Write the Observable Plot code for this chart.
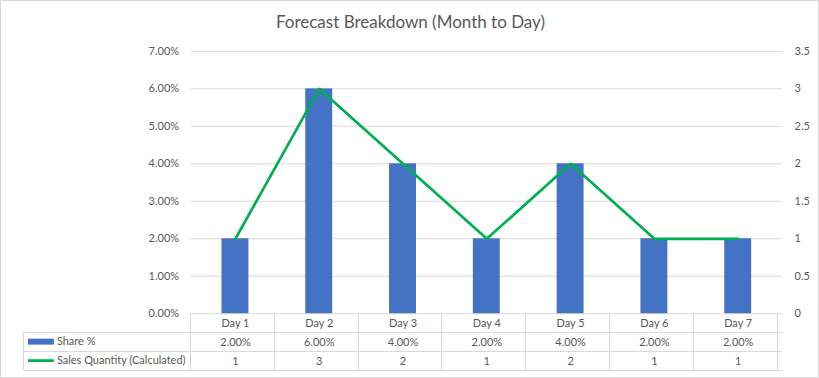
<!DOCTYPE html>
<html>
<head>
<meta charset="utf-8">
<script src="https://cdn.jsdelivr.net/npm/d3@7"></script>
<script src="https://cdn.jsdelivr.net/npm/@observablehq/plot@0.6"></script>
<style>
  html, body { margin: 0; padding: 0; background: #fff; }
  #wrap { position: relative; width: 819px; height: 378px; box-sizing: border-box; border: 1px solid #d9d9d9; overflow: hidden; }
  #wrap svg { position: absolute; left: 0; top: 0; }
  #title { position: absolute; left: 0; top: 10px; width: 819px; text-align: center; font-family: Lato, sans-serif; font-size: 17px; color: #595959; z-index: 2; }
</style>
</head>
<body>
<div id="wrap"><div id="title">Forecast Breakdown (Month to Day)</div></div>
<script>
const days = ["Day 1", "Day 2", "Day 3", "Day 4", "Day 5", "Day 6", "Day 7"];
const sharePct = [2, 6, 4, 2, 4, 2, 2];
const salesQty = [1, 3, 2, 1, 2, 1, 1];
const leftTicks = [0, 1, 2, 3, 4, 5, 6, 7];
const rightTicks = [0, 0.5, 1, 1.5, 2, 2.5, 3, 3.5];
const seriesNames = ["Share %", "Sales Quantity (Calculated)"];

const data = days.map((day, i) => ({day, share: sharePct[i], qty: salesQty[i]}));
const ratio = 7 / 3.5; // left max / right max

const textColor = "#595959";
const gridColor = "#d9d9d9";
const blue = "#4472C4";
const green = "#00B050";

const plot = Plot.plot({
  width: 819,
  height: 378,
  marginTop: 50,
  marginBottom: 65,
  marginLeft: 190,
  marginRight: 36,
  style: {fontFamily: "Lato, sans-serif", fontSize: "11px", color: textColor, background: "transparent", overflow: "visible"},
  x: {domain: days, paddingInner: 0.68, paddingOuter: 0.34, axis: null},
  y: {domain: [0, 7], axis: null},
  marks: [
    Plot.ruleY(leftTicks, {stroke: gridColor, strokeWidth: 1}),
    Plot.barY(data, {x: "day", y: "share", fill: blue}),
    Plot.line(data, {x: "day", y: d => d.qty * ratio, stroke: green, strokeWidth: 2.75}),
    Plot.axisY(leftTicks, {anchor: "left", label: null, tickSize: 0, tickPadding: 12, tickFormat: d => d.toFixed(2) + "%", fill: textColor}),
    Plot.axisY(rightTicks.map(v => v * ratio), {anchor: "right", label: null, tickSize: 0, tickPadding: 12, tickFormat: d => String(d / ratio), fill: textColor}),
    Plot.text(data, {x: "day", y: 0, text: "day", dy: 9.5, fill: textColor}),
    Plot.text(data, {x: "day", y: 0, text: d => d.share.toFixed(2) + "%", dy: 28.5, fill: textColor}),
    Plot.text(data, {x: "day", y: 0, text: d => String(d.qty), dy: 47.5, fill: textColor})
  ]
});

// Data table grid and legend keys, positioned from Plot's own scales
const xs = plot.scale("x");
const ys = plot.scale("y");
const y0 = ys.apply(0);
const rowH = 19;
const left = 23;
const x0 = xs.range[0], x1 = xs.range[1];
const g = d3.select(plot).append("g").attr("stroke", gridColor).attr("stroke-width", 1).attr("shape-rendering", "crispEdges");
for (let r = 1; r <= 3; r++) {
  g.append("line").attr("x1", left).attr("x2", x1).attr("y1", y0 + r * rowH).attr("y2", y0 + r * rowH);
}
g.append("line").attr("x1", left).attr("x2", left).attr("y1", y0 + rowH).attr("y2", y0 + 3 * rowH);
for (let i = 0; i <= days.length; i++) {
  const xx = x0 + i * xs.step;
  g.append("line").attr("x1", xx).attr("x2", xx).attr("y1", y0).attr("y2", y0 + 3 * rowH);
}
const lg = d3.select(plot).append("g").attr("font-family", "Lato, sans-serif").attr("font-size", 11).attr("fill", textColor).attr("text-anchor", "start");
lg.append("rect").attr("x", 27).attr("y", y0 + rowH * 1.5 - 3).attr("width", 26).attr("height", 6).attr("fill", blue);
lg.append("line").attr("x1", 27).attr("x2", 53).attr("y1", y0 + rowH * 2.5).attr("y2", y0 + rowH * 2.5).attr("stroke", green).attr("stroke-width", 2.75);
seriesNames.forEach((name, i) => {
  lg.append("text").attr("x", 56).attr("y", y0 + rowH * (1.5 + i)).attr("dy", "0.32em").text(name);
});

document.getElementById("wrap").appendChild(plot);
</script>
</body>
</html>
